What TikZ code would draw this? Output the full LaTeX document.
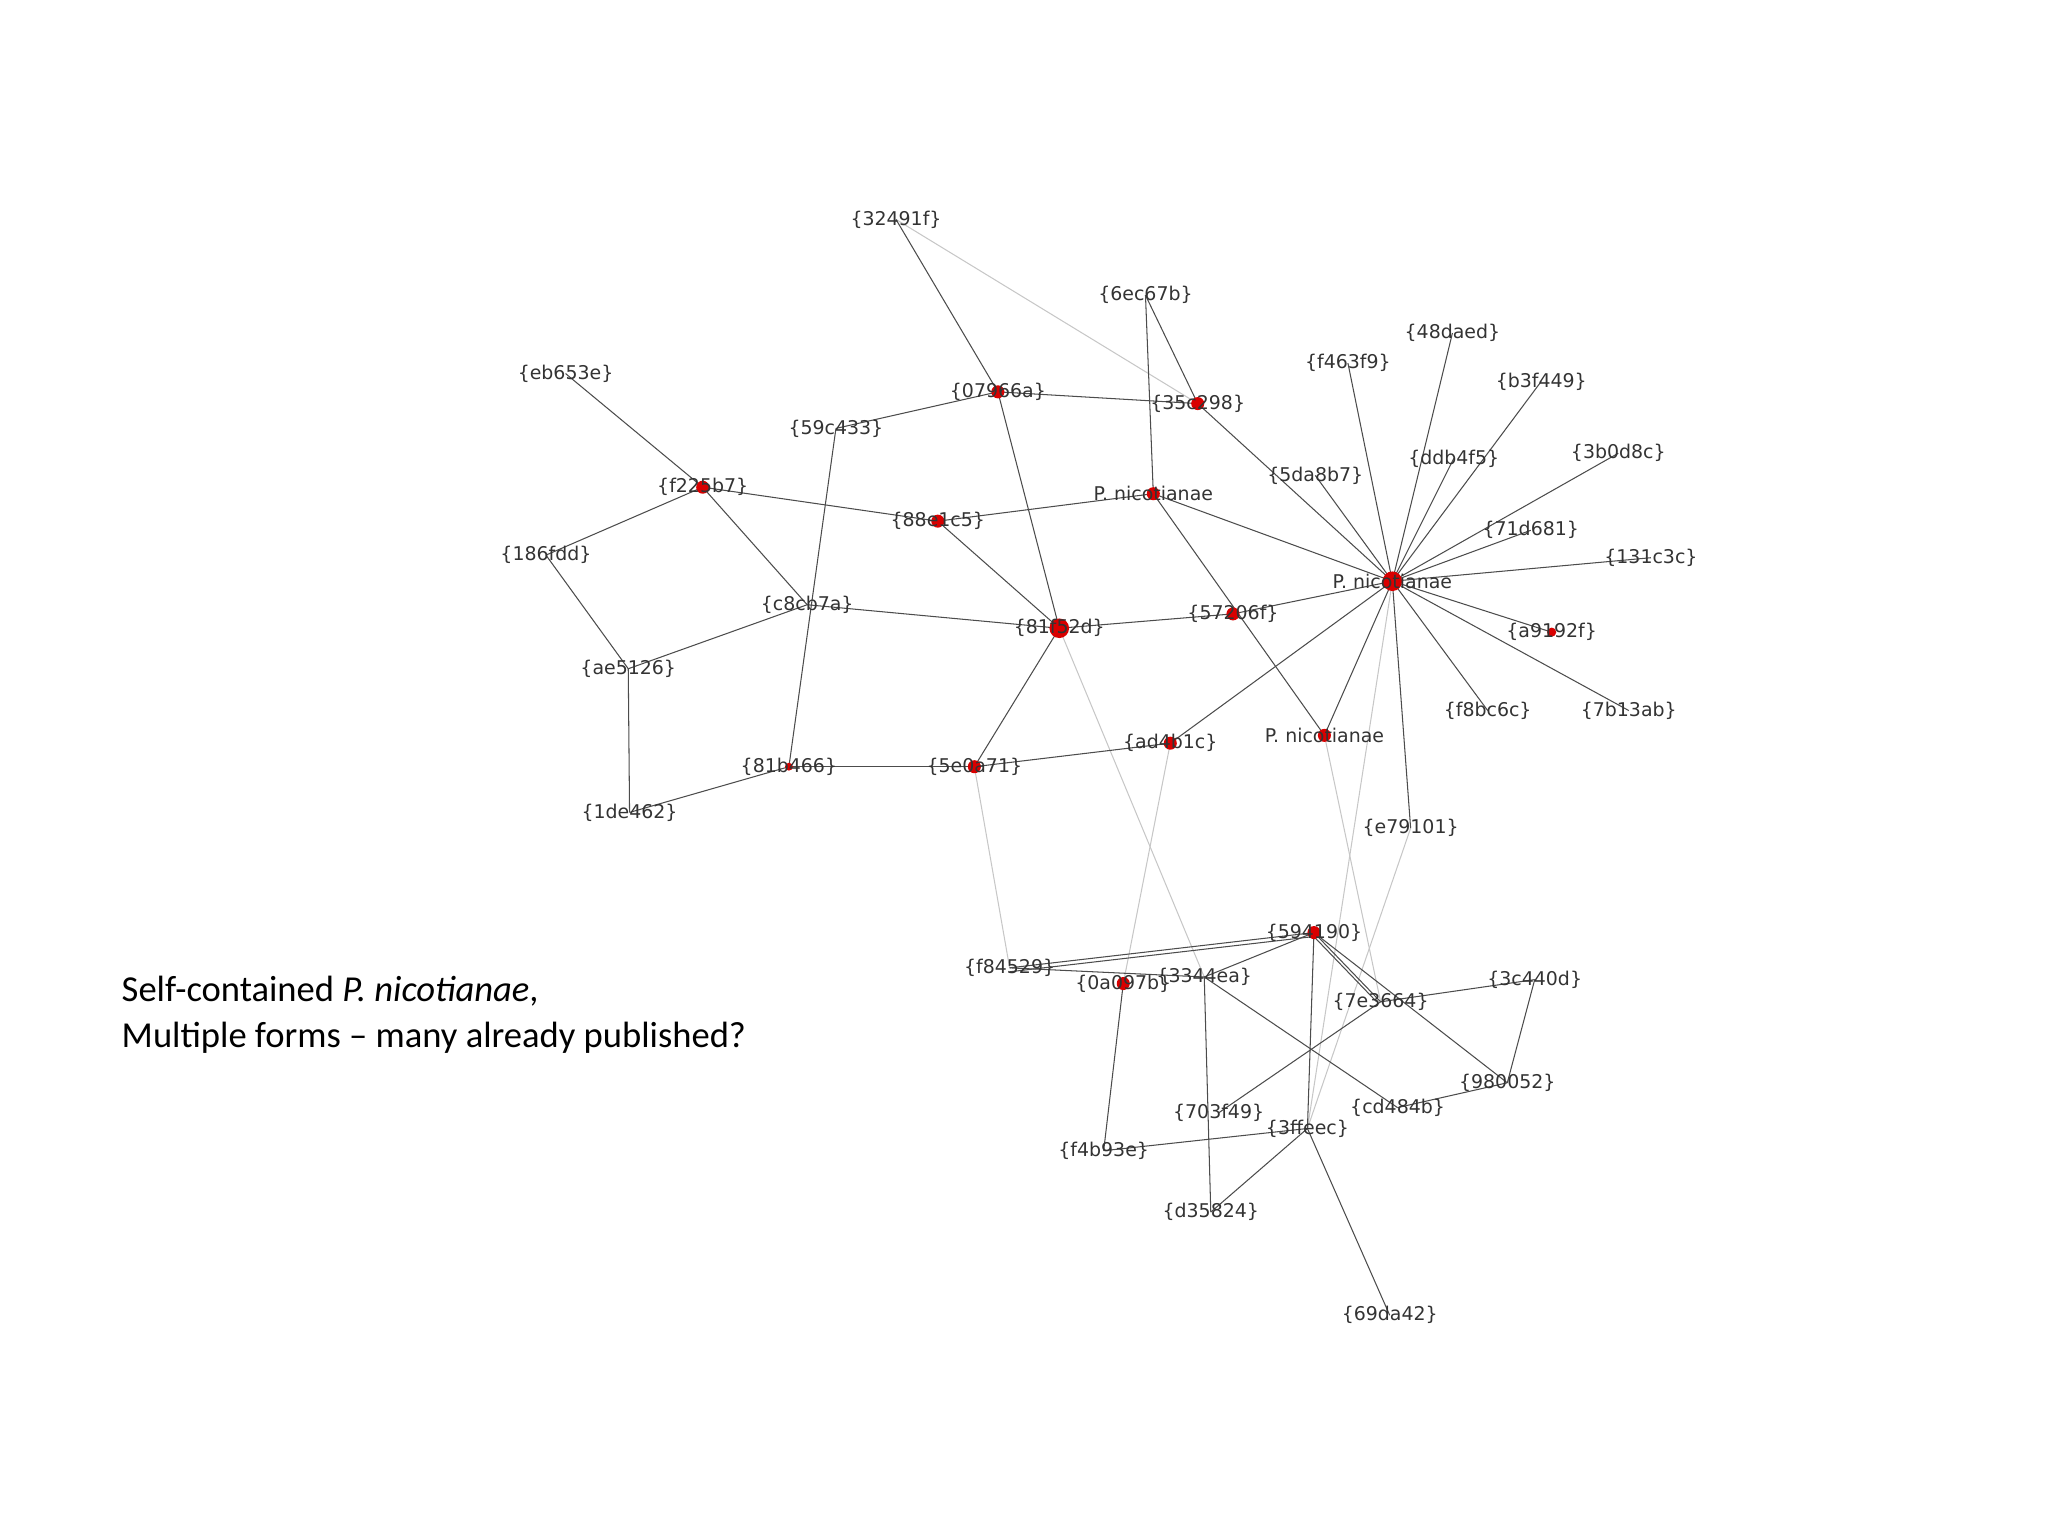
\documentclass[tikz,border=0pt]{standalone}
\usepackage{fontspec}
\setmainfont{DejaVu Sans}
\newfontfamily\calib{Carlito}
\begin{document}
\begin{tikzpicture}[x=1pt,y=-1pt,
  lab/.style={font=\fontsize{14.5}{16}\selectfont,text=black!80,inner sep=0pt},
  ed/.style={draw=black!70,line width=0.8pt},
  led/.style={draw=black!22,line width=0.8pt},
  dot/.style={circle,fill=red!85!black,inner sep=0pt,minimum size=10pt},
  bdot/.style={circle,fill=red!85!black,inner sep=0pt,minimum size=15pt}]
\useasboundingbox (0,0) rectangle (1568,1176);
\foreach \n/\x/\y in {
 a32491f/686/168, a6ec67b/877/226, eb653e/433/286,
 a07966a/764/300, a35c298/917/309, a59c433/640/328,
 a48daed/1112/255, f463f9/1032/278, b3f449/1180/292,
 a3b0d8c/1239/347, ddb4f5/1113/351, a5da8b7/1007/364,
 f225b7/538/373, pn1/883/378, a88e1c5/718/399,
 a71d681/1172/406, a186fdd/418/425, a131c3c/1264/427,
 pn2/1066/445, c8cb7a/618/463, a81f52d/811/481,
 a57206f/944/470, a9192f/1188/484, ae5126/481/512,
 f8bc6c/1139/544, a7b13ab/1247/544, pn3/1014/563,
 ad4b1c/896/569, a81b466/604/587, a5e0a71/746/587,
 a1de462/482/622, e79101/1080/634, a594190/1006/714,
 f84529/773/741, a0a097b/860/753, a3344ea/922/748,
 a3c440d/1175/750, a7e3664/1057/767, a980052/1154/829,
 cd484b/1070/848, a703f49/933/852, a3ffeec/1001/864,
 f4b93e/845/881, d35824/927/928, a69da42/1064/1007}
 {\coordinate (\n) at (\x,\y);}
% light edges
\foreach \a/\b in {a32491f/a35c298, pn2/a3ffeec, pn3/a7e3664, e79101/a3ffeec, a5e0a71/f84529,
 ad4b1c/a0a097b, a81f52d/a3344ea}
 \draw[led] (\a)--(\b);
% dark edges
\foreach \a/\b in {a32491f/a07966a, a6ec67b/pn1, a6ec67b/a35c298, eb653e/f225b7,
 a07966a/a59c433, a07966a/a35c298, a07966a/a81f52d, a35c298/pn2, a5da8b7/pn2,
 a59c433/a81b466, f225b7/a88e1c5, f225b7/a186fdd, f225b7/c8cb7a, a88e1c5/pn1, a88e1c5/a81f52d,
 pn1/pn2, pn1/pn3, pn2/f463f9, pn2/a48daed, pn2/b3f449, pn2/ddb4f5, pn2/a3b0d8c, pn2/a71d681,
 pn2/a131c3c, pn2/a9192f, pn2/a7b13ab, pn2/f8bc6c, pn2/e79101, pn2/pn3, pn2/ad4b1c, pn2/a57206f,
 a57206f/a81f52d, a186fdd/ae5126, c8cb7a/a81f52d, c8cb7a/ae5126, a81f52d/a5e0a71, ae5126/a1de462,
 a1de462/a81b466, a81b466/a5e0a71, a5e0a71/ad4b1c,
 a594190/f84529, a594190/a3344ea, a594190/a7e3664, a594190/a980052, a594190/a3ffeec,
 f84529/a3344ea, a0a097b/f4b93e, a3344ea/d35824, a3344ea/cd484b, a7e3664/a3c440d, a7e3664/a703f49,
 a3c440d/a980052, a980052/cd484b, a3ffeec/f4b93e, a3ffeec/d35824, a3ffeec/a69da42}
 \draw[ed] (\a)--(\b);
\draw[ed] ([yshift=-3pt]a594190)--([yshift=-3pt]f84529);
\draw[ed] ([xshift=-3pt]a594190)--([xshift=-3pt]a7e3664);
% dots
\foreach \p in {a07966a,a35c298,f225b7,pn1,a88e1c5,a57206f,pn3,ad4b1c,a5e0a71,a594190,a0a097b}
 \node[dot] at (\p) {};
\node[dot,minimum size=7pt] at (a9192f) {};
\node[dot,minimum size=6pt] at (a81b466) {};
\node[bdot] at (pn2) {};
\node[bdot] at (a81f52d) {};
% labels
\foreach \n/\x/\y/\t in {
 l1/686/168/{\{32491f\}}, l2/877/226/{\{6ec67b\}}, l3/433/286/{\{eb653e\}},
 l4/764/300/{\{07966a\}}, l5/917/309/{\{35c298\}}, l6/640/328/{\{59c433\}},
 l7/1112/255/{\{48daed\}}, l8/1032/278/{\{f463f9\}}, l9/1180/292/{\{b3f449\}},
 l10/1239/347/{\{3b0d8c\}}, l11/1113/351/{\{ddb4f5\}}, l12/1007/364/{\{5da8b7\}},
 l13/538/373/{\{f225b7\}}, l14/883/378/{P. nicotianae}, l15/718/399/{\{88e1c5\}},
 l16/1172/406/{\{71d681\}}, l17/418/425/{\{186fdd\}}, l18/1264/427/{\{131c3c\}},
 l19/1066/445/{P. nicotianae}, l20/618/463/{\{c8cb7a\}}, l21/811/481/{\{81f52d\}},
 l22/944/470/{\{57206f\}}, l23/1188/484/{\{a9192f\}}, l24/481/512/{\{ae5126\}},
 l25/1139/544/{\{f8bc6c\}}, l26/1247/544/{\{7b13ab\}}, l27/1014/563/{P. nicotianae},
 l28/896/569/{\{ad4b1c\}}, l29/604/587/{\{81b466\}}, l30/746/587/{\{5e0a71\}},
 l31/482/622/{\{1de462\}}, l32/1080/634/{\{e79101\}}, l33/1006/714/{\{594190\}},
 l34/773/741/{\{f84529\}}, l35/860/753/{\{0a097b\}}, l36/922/748/{\{3344ea\}},
 l37/1175/750/{\{3c440d\}}, l38/1057/767/{\{7e3664\}}, l39/1154/829/{\{980052\}},
 l40/1070/848/{\{cd484b\}}, l41/933/852/{\{703f49\}}, l42/1001/864/{\{3ffeec\}},
 l43/845/881/{\{f4b93e\}}, l44/927/928/{\{d35824\}}, l45/1064/1007/{\{69da42\}}}
 {\node[lab] (\n) at (\x,\y) {\t};}
\node[font=\calib\fontsize{28}{35}\selectfont,anchor=north west,align=left,inner sep=0pt] (cap) at (93,747)
 {Self-contained \textit{P. nicotianae},\\Multiple forms – many already published?};
\end{tikzpicture}
\end{document}
